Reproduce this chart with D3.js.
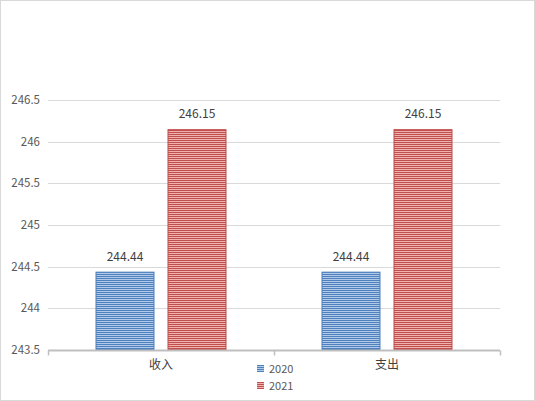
<!DOCTYPE html>
<html>
<head>
<meta charset="utf-8">
<script src="https://cdn.jsdelivr.net/npm/d3@7"></script>
<style>
  body { margin: 0; background: #fff; }
  svg { display: block; font-family: 'Noto Sans CJK SC', 'Noto Sans', sans-serif; }
</style>
</head>
<body>
<svg id="chart" width="535" height="401"></svg>
<script>
const categories = ['收入', '支出'];
const seriesNames = ['2020', '2021'];
const values2020 = [244.44, 244.44];
const values2021 = [246.15, 246.15];
const yTicks = [243.5, 244, 244.5, 245, 245.5, 246, 246.5];

const width = 535;
const height = 401;
const margin = { top: 100, right: 35, bottom: 51, left: 48 };

const svg = d3.select('#chart');

// outer frame
svg.append('rect')
  .attr('x', 0.5).attr('y', 0.5)
  .attr('width', width - 1).attr('height', height - 1)
  .attr('fill', '#fff').attr('stroke', '#d9d9d9');

// striped fills
const defs = svg.append('defs');
const palette = [
  { id: 'stripe0', dark: '#4f81bd', light: '#b0c8ea', edge: '#4a7ebb' },
  { id: 'stripe1', dark: '#c0504d', light: '#f0b0ae', edge: '#be4b48' }
];
palette.forEach((p) => {
  const pat = defs.append('pattern')
    .attr('id', p.id)
    .attr('patternUnits', 'userSpaceOnUse')
    .attr('width', 4).attr('height', 2);
  pat.append('rect').attr('width', 4).attr('height', 2).attr('fill', p.light);
  pat.append('rect').attr('width', 4).attr('height', 1).attr('fill', p.dark);
});

const x = d3.scaleBand()
  .domain(categories)
  .range([margin.left, width - margin.right]);

const y = d3.scaleLinear()
  .domain([243.5, 246.5])
  .range([height - margin.bottom, margin.top]);

// gridlines
svg.append('g')
  .selectAll('line')
  .data(yTicks.slice(1))
  .join('line')
  .attr('x1', margin.left).attr('x2', width - margin.right)
  .attr('y1', (d) => Math.round(y(d)) + 0.5).attr('y2', (d) => Math.round(y(d)) + 0.5)
  .attr('stroke', '#d9d9d9');

// y labels
svg.append('g')
  .selectAll('text')
  .data(yTicks)
  .join('text')
  .attr('x', 40)
  .attr('y', (d) => y(d))
  .attr('dy', '0.35em')
  .attr('text-anchor', 'end')
  .attr('font-size', 11.5)
  .attr('fill', '#595959')
  .text((d) => d);

// bars
const barW = 59, gap = 13;
const data = categories.map((c, i) => ({ cat: c, vals: [values2020[i], values2021[i]] }));

const group = svg.append('g')
  .selectAll('g')
  .data(data)
  .join('g');

group.selectAll('rect')
  .data((d) => d.vals.map((v, k) => ({ cat: d.cat, v, k })))
  .join('rect')
  .attr('x', (d) => x(d.cat) + x.bandwidth() / 2 - (barW * 2 + gap) / 2 + d.k * (barW + gap) + 0.5)
  .attr('y', (d) => y(d.v) + 0.5)
  .attr('width', barW - 1)
  .attr('height', (d) => y(243.5) - y(d.v) - 1)
  .attr('fill', (d) => `url(#stripe${d.k})`)
  .attr('stroke', (d) => palette[d.k].edge)
  .attr('stroke-width', 1);

group.selectAll('text')
  .data((d) => d.vals.map((v, k) => ({ cat: d.cat, v, k })))
  .join('text')
  .attr('x', (d) => x(d.cat) + x.bandwidth() / 2 - (barW * 2 + gap) / 2 + d.k * (barW + gap) + barW / 2)
  .attr('y', (d) => y(d.v) - 11)
  .attr('text-anchor', 'middle')
  .attr('font-size', 12)
  .attr('fill', '#404040')
  .text((d) => d.v.toFixed(2));

// x axis
const axisY = Math.round(y(243.5)) + 0.5;
svg.append('line')
  .attr('x1', margin.left).attr('x2', width - margin.right)
  .attr('y1', axisY).attr('y2', axisY)
  .attr('stroke', '#bfbfbf').attr('stroke-width', 2);

const boundaries = [margin.left, ...categories.map((c) => x(c) + x.bandwidth())];
svg.append('g')
  .selectAll('line')
  .data(boundaries)
  .join('line')
  .attr('x1', (d) => Math.round(d) + 0.5).attr('x2', (d) => Math.round(d) + 0.5)
  .attr('y1', axisY).attr('y2', axisY + 5)
  .attr('stroke', '#bfbfbf').attr('stroke-width', 1.5);

svg.append('g')
  .selectAll('text')
  .data(categories)
  .join('text')
  .attr('x', (d) => x(d) + x.bandwidth() / 2)
  .attr('y', 369)
  .attr('text-anchor', 'middle')
  .attr('font-size', 12)
  .attr('fill', '#404040')
  .text((d) => d);

// legend
const legend = svg.append('g')
  .selectAll('g')
  .data(seriesNames)
  .join('g')
  .attr('transform', (d, i) => `translate(257, ${365 + i * 17})`);

legend.append('rect')
  .attr('width', 7).attr('height', 7)
  .attr('fill', (d, i) => `url(#stripe${i})`);

legend.append('text')
  .attr('x', 12)
  .attr('y', 4)
  .attr('dy', '0.35em')
  .attr('font-size', 11)
  .attr('fill', '#595959')
  .text((d) => d);
</script>
</body>
</html>
